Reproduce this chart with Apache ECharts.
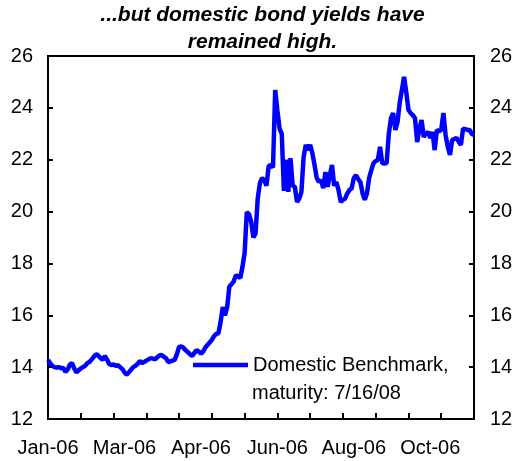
<!DOCTYPE html>
<html>
<head>
<meta charset="utf-8">
<script src="https://cdn.jsdelivr.net/npm/echarts@6/dist/echarts.min.js"></script>
<style>
  html, body { margin: 0; padding: 0; background: #fff; }
  #chart { width: 525px; height: 461px; }
</style>
</head>
<body>
<div id="chart"></div>
<script>
// Domestic benchmark bond yield (%), trading observations Jan-06 .. Nov-06
const yieldValues = [
  14.28, 14.15, 14.05, 14.00, 13.98, 14.00, 13.96, 13.97, 13.82, 13.90,
  14.10, 14.16, 13.95, 13.80, 13.88, 13.95, 14.00, 14.05, 14.16, 14.20,
  14.30, 14.40, 14.50, 14.45, 14.35, 14.28, 14.43, 14.30, 14.12, 14.08,
  14.10, 14.05, 14.08, 14.00, 13.93, 13.80, 13.70, 13.80, 13.90, 14.00,
  14.05, 14.12, 14.24, 14.16, 14.20, 14.25, 14.30, 14.35, 14.33, 14.30,
  14.38, 14.45, 14.47, 14.40, 14.35, 14.20, 14.22, 14.25, 14.28, 14.50,
  14.78, 14.80, 14.75, 14.65, 14.58, 14.50, 14.43, 14.55, 14.66, 14.60,
  14.52, 14.60, 14.75, 14.86, 14.95, 15.05, 15.20, 15.28, 15.30, 15.74,
  16.32, 16.00, 16.30, 17.10, 17.20, 17.30, 17.55, 17.50, 17.44, 17.86,
  18.40, 19.98, 19.90, 19.60, 19.00, 19.15, 20.50, 21.10, 21.30, 21.20,
  21.00, 21.75, 21.80, 21.70, 24.69, 23.90, 23.20, 23.00, 20.80, 22.00,
  20.76, 22.06, 21.00, 20.95, 20.37, 20.50, 20.76, 22.10, 22.57, 22.37,
  22.57, 22.26, 21.80, 21.30, 21.14, 21.20, 20.90, 21.52, 20.95, 21.40,
  21.80, 21.00, 21.14, 20.83, 20.37, 20.45, 20.50, 20.70, 20.83, 20.90,
  21.30, 21.40, 21.25, 21.14, 20.70, 20.45, 20.70, 21.30, 21.60, 21.87,
  21.95, 21.99, 22.50, 21.87, 21.85, 21.87, 23.00, 23.60, 23.80, 23.15,
  23.45, 24.20, 24.69, 25.20, 24.60, 23.92, 23.80, 23.72, 23.60, 22.68,
  23.20, 23.53, 22.88, 23.00, 23.07, 22.84, 23.07, 22.37, 23.15, 23.10,
  23.15, 23.80, 22.95, 22.50, 22.18, 22.76, 22.80, 22.84, 22.70, 22.57,
  23.20, 23.18, 23.15, 23.15, 23.00, 22.95
];

// Month labels shown along the time axis, one every 35 observations
const monthLabels = ['Jan-06', 'Mar-06', 'Apr-06', 'Jun-06', 'Aug-06', 'Oct-06'];
const labelEvery = 35;
const tickEvery = 15;

// Percent scale
const yMin = 12, yMax = 26, yStep = 2;

const seriesName = 'Domestic Benchmark,';
const seriesNote = 'maturity: 7/16/08';
const titleText = '...but domestic bond yields have\nremained high.';

const categories = yieldValues.map((_, i) => 'obs' + i);

const FONT = '"Liberation Sans", Arial, sans-serif';

const chart = echarts.init(document.getElementById('chart'), null, { renderer: 'canvas' });

const yAxisCommon = {
  type: 'value',
  min: yMin,
  max: yMax,
  interval: yStep,
  splitLine: { show: false },
  axisLine: { show: true, lineStyle: { color: '#000', width: 2 } },
  axisTick: { show: true, inside: true, length: 5, lineStyle: { color: '#000', width: 2 } },
  axisLabel: { color: '#000', fontSize: 20, fontFamily: FONT, margin: 15 }
};

chart.setOption({
  animation: false,
  backgroundColor: '#fff',
  title: {
    text: titleText,
    left: 'center',
    top: 0,
    padding: [2, 5, 2, 5],
    textStyle: {
      fontFamily: FONT,
      fontSize: 21,
      fontWeight: 'bold',
      fontStyle: 'italic',
      color: '#000',
      lineHeight: 27
    }
  },
  grid: {
    left: 48, right: 51, top: 56, bottom: 42,
    show: true,
    borderColor: '#000',
    borderWidth: 2,
    containLabel: false
  },
  legend: {
    left: 193,
    top: 353,
    padding: 0,
    icon: 'rect',
    itemWidth: 55,
    itemHeight: 4.5,
    data: [seriesName],
    textStyle: { color: '#000', fontSize: 20, fontFamily: FONT, lineHeight: 24 }
  },
  graphic: [{
    type: 'text',
    left: 252,
    top: 383,
    style: { text: seriesNote, fill: '#000', font: '20px ' + FONT }
  }],
  xAxis: {
    type: 'category',
    data: categories,
    boundaryGap: false,
    axisLine: { show: true, lineStyle: { color: '#000', width: 2 } },
    axisTick: { show: true, inside: true, length: 6, interval: tickEvery - 1, lineStyle: { color: '#000', width: 2 } },
    axisLabel: {
      interval: labelEvery - 1,
      color: '#000',
      fontSize: 20,
      fontFamily: FONT,
      margin: 19,
      formatter: (v, idx) => monthLabels[Math.round(idx / labelEvery)] || ''
    },
    splitLine: { show: false }
  },
  yAxis: [
    Object.assign({}, yAxisCommon, { position: 'left' }),
    Object.assign({}, yAxisCommon, { position: 'right', axisLabel: Object.assign({}, yAxisCommon.axisLabel, { margin: 16 }) })
  ],
  series: [{
    name: seriesName,
    type: 'line',
    data: yieldValues,
    yAxisIndex: 0,
    showSymbol: false,
    symbol: 'none',
    lineStyle: { color: '#0000FF', width: 4.5 },
    itemStyle: { color: '#0000FF' }
  }]
});
</script>
</body>
</html>
